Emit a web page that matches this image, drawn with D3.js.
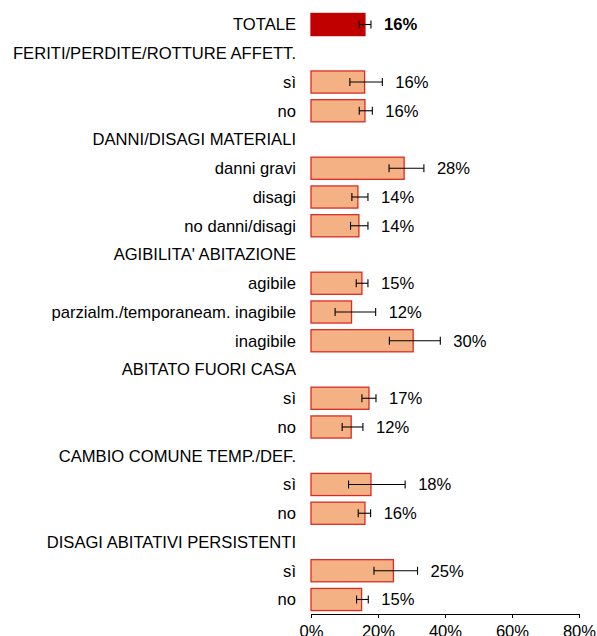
<!DOCTYPE html>
<html>
<head>
<meta charset="utf-8">
<script src="https://cdn.jsdelivr.net/npm/d3@7"></script>
<style>
  body { margin: 0; background: #fff; }
  text { font-family: "Liberation Sans", Arial, sans-serif; }
</style>
</head>
<body>
<div id="chart"></div>
<script>
// rows of the chart, headers have no value
var labels = ["TOTALE", "FERITI/PERDITE/ROTTURE AFFETT.", "sì", "no",
  "DANNI/DISAGI MATERIALI", "danni gravi", "disagi", "no danni/disagi",
  "AGIBILITA' ABITAZIONE", "agibile", "parzialm./temporaneam. inagibile", "inagibile",
  "ABITATO FUORI CASA", "sì", "no",
  "CAMBIO COMUNE TEMP./DEF.", "sì", "no",
  "DISAGI ABITATIVI PERSISTENTI", "sì", "no"];
var values = [16.1, null, 16.0, 16.1,
  null, 27.8, 14.0, 14.3,
  null, 15.2, 12.1, 30.5,
  null, 17.3, 12.0,
  null, 17.9, 16.1,
  null, 24.6, 15.1];
var errLow = [14.4, null, 11.6, 14.4,
  null, 23.3, 12.2, 11.8,
  null, 13.5, 7.2, 23.4,
  null, 15.2, 9.3,
  null, 11.2, 14.1,
  null, 18.8, 13.6];
var errHigh = [17.9, null, 21.3, 18.3,
  null, 33.7, 17.0, 17.0,
  null, 17.0, 19.3, 38.6,
  null, 19.4, 15.5,
  null, 28.1, 17.8,
  null, 31.8, 17.1];
var valueLabels = ["16%", "", "16%", "16%",
  "", "28%", "14%", "14%",
  "", "15%", "12%", "30%",
  "", "17%", "12%",
  "", "18%", "16%",
  "", "25%", "15%"];
var tickValues = [0, 20, 40, 60, 80];

var width = 597, height = 636;
var margin = {top: 10, left: 311, right: 18, bottom: 22};

var svg = d3.select("#chart")
  .append("svg")
    .attr("width", width)
    .attr("height", height);

var rows = labels.map(function(d, i) { return i; });

var y = d3.scaleBand()
  .domain(rows)
  .range([margin.top, height - margin.bottom])
  .paddingInner(0.23)
  .paddingOuter(0.12);

var x = d3.scaleLinear()
  .domain([0, 80])
  .range([margin.left, width - margin.right]);

// category labels
svg.selectAll("text.cat")
  .data(rows)
  .enter()
  .append("text")
    .attr("class", "cat")
    .attr("x", 296)
    .attr("y", function(i) { return y(i) + y.bandwidth() / 2; })
    .attr("dy", "0.35em")
    .attr("text-anchor", "end")
    .style("font-size", "16.6px")
    .attr("fill", "#000")
    .text(function(i) { return labels[i]; });

var dataRows = rows.filter(function(i) { return values[i] !== null; });

// bars
svg.selectAll("rect.bar")
  .data(dataRows)
  .enter()
  .append("rect")
    .attr("x", x(0))
    .attr("y", function(i) { return y(i); })
    .attr("width", function(i) { return x(values[i]) - x(0); })
    .attr("height", y.bandwidth())
    .attr("fill", function(i) { return i === 0 ? "#c00000" : "#f4b183"; })
    .attr("stroke", function(i) { return i === 0 ? "#c00000" : "#dc2b24"; })
    .attr("stroke-width", 1.3);

// error bars
var eb = svg.selectAll("g.err")
  .data(dataRows)
  .enter()
  .append("g")
    .attr("class", "err")
    .attr("stroke", "#000")
    .attr("stroke-width", 1.1);
eb.append("line")
  .attr("x1", function(i) { return x(errLow[i]); })
  .attr("x2", function(i) { return x(errHigh[i]); })
  .attr("y1", function(i) { return y(i) + y.bandwidth() / 2; })
  .attr("y2", function(i) { return y(i) + y.bandwidth() / 2; });
eb.append("line")
  .attr("x1", function(i) { return x(errLow[i]); })
  .attr("x2", function(i) { return x(errLow[i]); })
  .attr("y1", function(i) { return y(i) + y.bandwidth() / 2 - 4; })
  .attr("y2", function(i) { return y(i) + y.bandwidth() / 2 + 4; });
eb.append("line")
  .attr("x1", function(i) { return x(errHigh[i]); })
  .attr("x2", function(i) { return x(errHigh[i]); })
  .attr("y1", function(i) { return y(i) + y.bandwidth() / 2 - 4; })
  .attr("y2", function(i) { return y(i) + y.bandwidth() / 2 + 4; });

// value labels
svg.selectAll("text.val")
  .data(dataRows)
  .enter()
  .append("text")
    .attr("class", "val")
    .attr("x", function(i) { return x(Math.max(errHigh[i], values[i])) + 13; })
    .attr("y", function(i) { return y(i) + y.bandwidth() / 2; })
    .attr("dy", "0.35em")
    .style("font-size", "16.6px")
    .style("font-weight", function(i) { return i === 0 ? "bold" : "normal"; })
    .text(function(i) { return valueLabels[i]; });

// X axis
var axis = svg.append("g")
  .attr("transform", "translate(0," + (height - margin.bottom) + ")")
  .call(d3.axisBottom(x)
    .tickValues(tickValues)
    .tickFormat(function(d) { return d + "%"; })
    .tickSize(4)
    .tickSizeOuter(0));
axis.select(".domain").attr("stroke", "#000");
axis.selectAll(".tick line").attr("stroke", "#000");
axis.selectAll(".tick text")
  .attr("font-family", "Liberation Sans, Arial, sans-serif")
  .style("font-size", "16.6px")
  .attr("fill", "#000")
  .attr("y", 23)
  .attr("dy", "0");
</script>
</body>
</html>
